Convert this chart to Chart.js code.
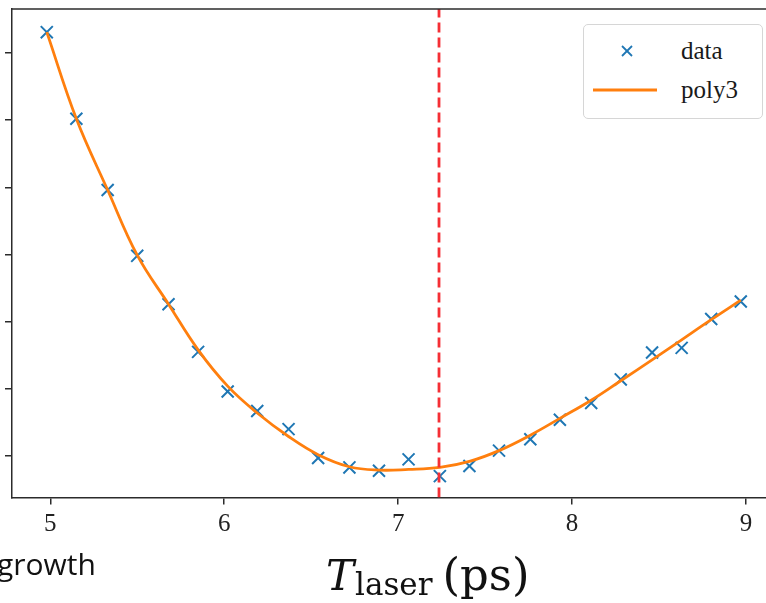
<!DOCTYPE html>
<html>
<head>
<meta charset="utf-8">
<script src="https://cdn.jsdelivr.net/npm/chart.js@4"></script>
<style>
    body { margin: 0; background: #fff; }
    #wrap { position: relative; width: 766px; height: 603px; overflow: hidden; }
    #chart { position: absolute; left: 0; top: 0; }
    #legend { position: absolute; left: 583px; top: 24px; width: 178px; height: 93px; border: 1px solid #d6d6d6; border-radius: 5px; background: #fff; font-family: 'Liberation Serif', serif; font-size: 25px; color: #1a1a1a; }
    .leg-row { position: absolute; left: 0; height: 30px; width: 100%; }
    .leg-row span { position: absolute; left: 97px; top: 0; line-height: 30px; }
    .leg-row svg { position: absolute; left: 8px; top: 0; }
    #xlabel { position: absolute; left: 326px; top: 552px; line-height: 45px; font-family: 'DejaVu Serif', serif; color: #111; white-space: nowrap; }
    #xlabel i { font-size: 42px; }
    #xlabel sub { font-size: 31px; vertical-align: -5px; margin-left: 1px; }
    #xlabel .u { font-size: 45px; margin-left: 10px; }
    #side { position: absolute; left: -3px; top: 543px; font-family: 'Open Sans', sans-serif; font-size: 30px; color: #111; }
</style>
</head>
<body>
<div id="wrap">
    <canvas id="chart" width="766" height="603"></canvas>
    <div id="legend"></div>
    <div id="xlabel"><i>T</i><sub>laser</sub><span class="u">(ps)</span></div>
    <div id="side">growth</div>
</div>
<script>
const tLaser = [4.98, 5.15, 5.33, 5.50, 5.68, 5.85, 6.02, 6.19, 6.37, 6.54, 6.72, 6.89,
                7.06, 7.24, 7.41, 7.58, 7.76, 7.93, 8.11, 8.28, 8.46, 8.63, 8.80, 8.97];
const measured = [7.31, 6.02, 4.96, 3.98, 3.26, 2.55, 1.96, 1.67, 1.40, 0.97, 0.83, 0.78,
                  0.95, 0.70, 0.85, 1.08, 1.25, 1.54, 1.79, 2.14, 2.54, 2.61, 3.04, 3.30];
const poly3 = [7.31, 6.02, 4.96, 3.99, 3.26, 2.58, 2.04, 1.64, 1.29, 1.02, 0.84, 0.79,
               0.80, 0.83, 0.92, 1.08, 1.31, 1.56, 1.83, 2.12, 2.43, 2.73, 3.03, 3.32];
const optimumT = 7.235;
const xTicks = [5, 6, 7, 8, 9];
const yTicks = [1, 2, 3, 4, 5, 6, 7];
const xRange = [4.78, 9.115];
const yRange = [0.382, 7.655];

const axisColor = '#2b2b2b';

const topSpine = {
    id: 'topSpine',
    afterDraw(chart) {
        const { ctx, chartArea } = chart;
        ctx.save();
        ctx.strokeStyle = axisColor;
        ctx.lineWidth = 1.5;
        ctx.beginPath();
        ctx.moveTo(chartArea.left, chartArea.top);
        ctx.lineTo(chartArea.right, chartArea.top);
        ctx.stroke();
        ctx.restore();
    }
};

const htmlLegend = {
    id: 'htmlLegend',
    afterUpdate(chart) {
        const box = document.getElementById('legend');
        box.innerHTML = '';
        chart.data.datasets.forEach((ds, i) => {
            if (!ds.inLegend) return;
            const row = document.createElement('div');
            row.className = 'leg-row';
            row.style.top = (i === 0 ? 11 : 50) + 'px';
            let icon;
            if (ds.showLine === false) {
                icon = `<svg width="70" height="30"><g stroke="${ds.borderColor}" stroke-width="1.8">
                    <line x1="30" y1="10" x2="40" y2="20"/><line x1="40" y1="10" x2="30" y2="20"/></g></svg>`;
            } else {
                icon = `<svg width="70" height="30"><line x1="1" y1="15" x2="65" y2="15" stroke="${ds.borderColor}" stroke-width="3"/></svg>`;
            }
            row.innerHTML = icon + `<span>${ds.label}</span>`;
            box.appendChild(row);
        });
    }
};

const ctx = document.getElementById('chart').getContext('2d');
new Chart(ctx, {
    type: 'scatter',
    data: {
        datasets: [
            {
                label: 'data',
                inLegend: true,
                data: tLaser.map((t, i) => ({ x: t, y: measured[i] })),
                showLine: false,
                pointStyle: 'crossRot',
                pointRadius: 8.5,
                pointBorderWidth: 2,
                borderColor: '#1f77b4',
                backgroundColor: '#1f77b4',
                order: 3
            },
            {
                label: 'poly3',
                inLegend: true,
                type: 'line',
                data: tLaser.map((t, i) => ({ x: t, y: poly3[i] })),
                borderColor: '#ff7f0e',
                borderWidth: 2.8,
                pointRadius: 0,
                tension: 0.4,
                fill: false,
                order: 2
            },
            {
                label: 'optimum',
                inLegend: false,
                type: 'line',
                data: [{ x: optimumT, y: yRange[0] }, { x: optimumT, y: yRange[1] }],
                borderColor: '#f52f35',
                borderWidth: 2.8,
                borderDash: [10, 5],
                pointRadius: 0,
                fill: false,
                order: 1
            }
        ]
    },
    options: {
        responsive: false,
        animation: false,
        devicePixelRatio: 1,
        layout: { autoPadding: false, padding: { top: 9, left: 0, right: 0, bottom: 0 } },
        scales: {
            x: {
                type: 'linear',
                min: xRange[0],
                max: xRange[1],
                afterBuildTicks: (s) => { s.ticks = xTicks.map(v => ({ value: v })); },
                afterFit: (s) => { s.height = 105.5; },
                grid: { drawOnChartArea: false, tickLength: 7, color: axisColor, lineWidth: 1.5 },
                border: { color: axisColor, width: 1.5 },
                ticks: { color: '#222', padding: 5, font: { family: 'Liberation Serif', size: 25 } }
            },
            y: {
                type: 'linear',
                min: yRange[0],
                max: yRange[1],
                afterBuildTicks: (s) => { s.ticks = yTicks.map(v => ({ value: v })); },
                afterFit: (s) => { s.width = 12; },
                grid: { drawOnChartArea: false, tickLength: 7, color: axisColor, lineWidth: 1.5 },
                border: { color: axisColor, width: 1.5 },
                ticks: { display: false }
            }
        },
        plugins: {
            legend: { display: false },
            tooltip: { enabled: false }
        }
    },
    plugins: [topSpine, htmlLegend]
});
</script>
</body>
</html>
